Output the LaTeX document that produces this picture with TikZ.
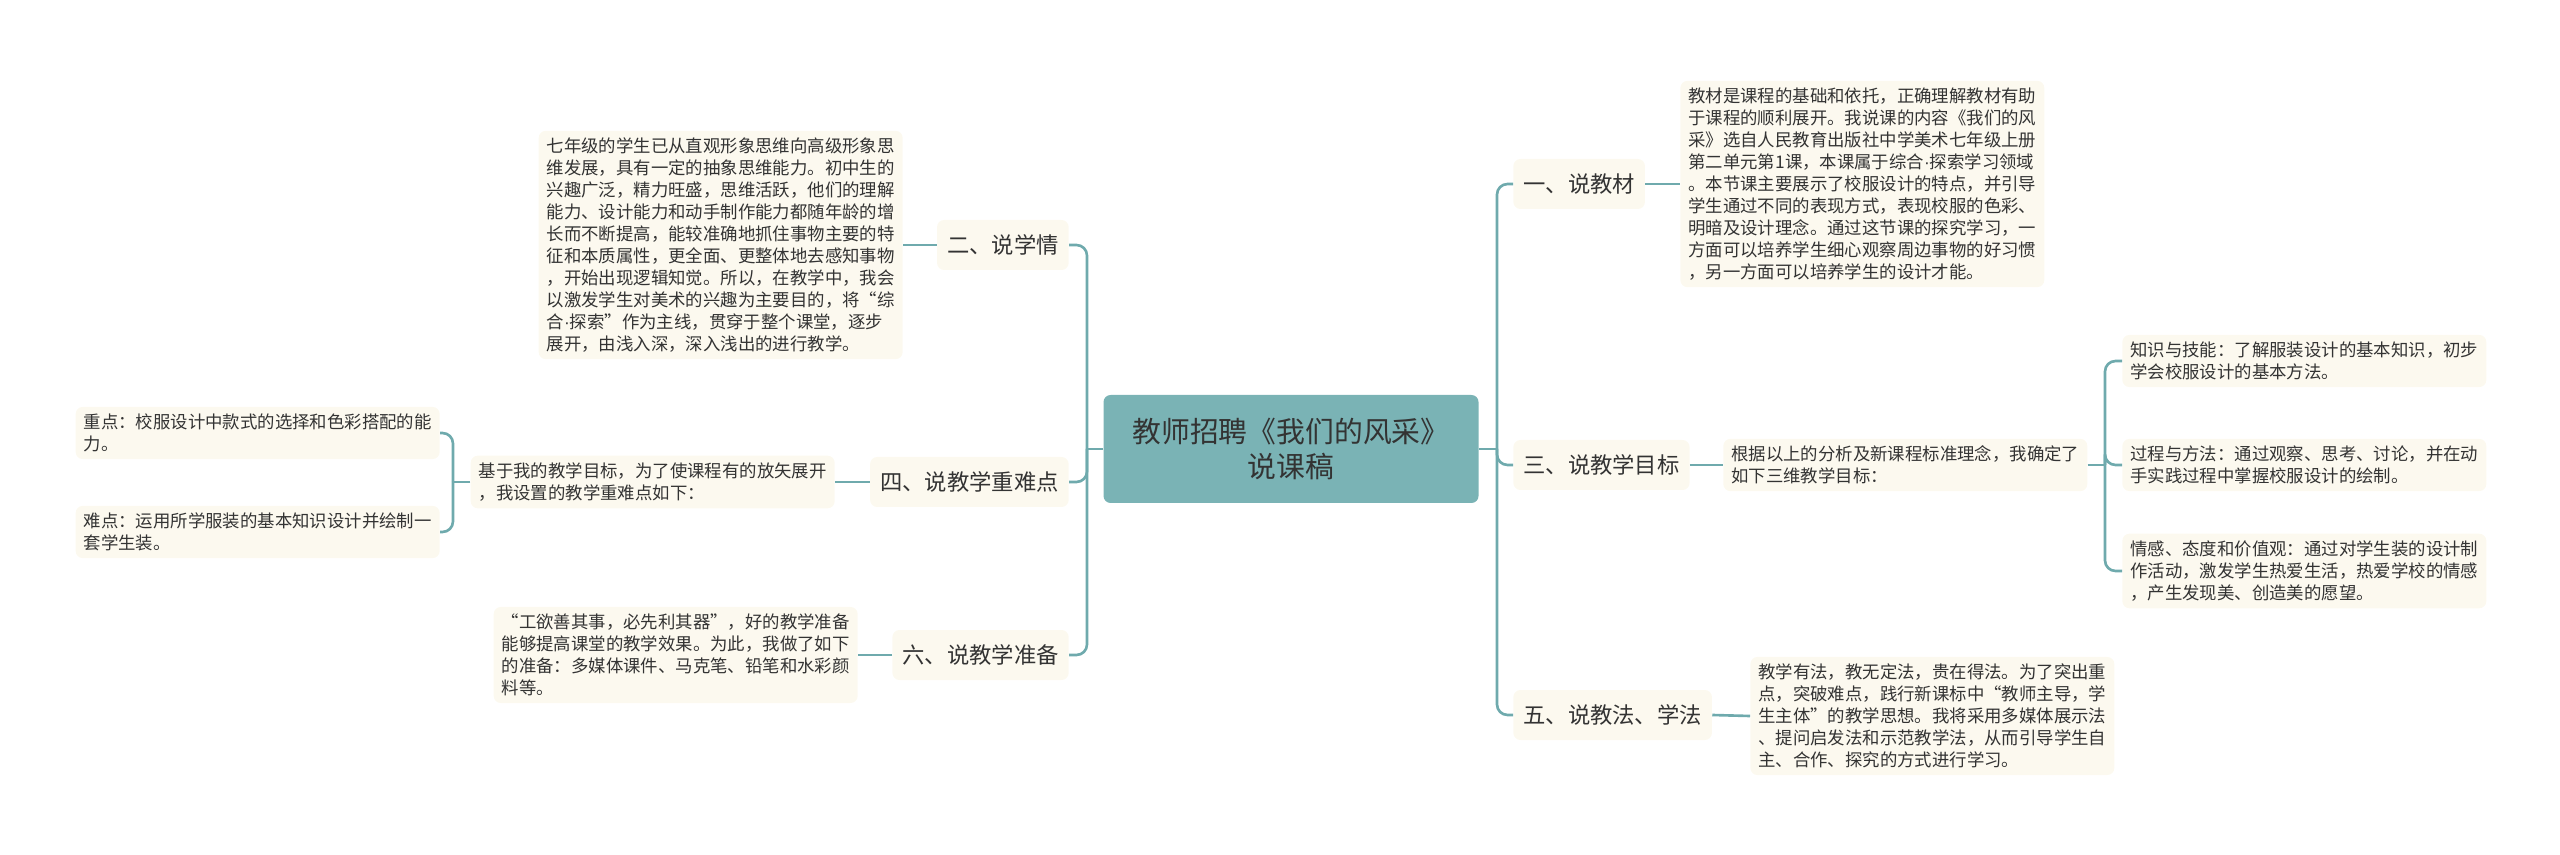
\documentclass[tikz,border=0pt]{standalone}
\usepackage{fontspec}
\setmainfont{Noto Sans CJK SC}
\newfontfamily\latinfont{Liberation Sans}
\newcommand{\middot}{{\latinfont ·}}
\definecolor{trunkteal}{HTML}{6FAAAD}
\definecolor{rootteal}{HTML}{7AB3B5}
\definecolor{notecream}{HTML}{FCF9EF}
\definecolor{inkgray}{HTML}{333333}
\begin{document}
\begin{tikzpicture}[
  root/.style={fill=rootteal, rounded corners=4pt, text=inkgray, align=center,
    minimum width=7.5cm, minimum height=2.16cm, font=\fontsize{16.4}{20}\selectfont},
  topic/.style={fill=notecream, rounded corners=4pt, text=inkgray,
    minimum height=1cm, inner xsep=0.2cm, font=\fontsize{12.7}{15}\selectfont},
  note/.style={fill=notecream, rounded corners=4pt, text=inkgray, align=left,
    inner xsep=0.16cm, inner ysep=0.14cm, font=\fontsize{9.9}{12.5}\selectfont},
  link/.style={draw=trunkteal, line width=1.5pt, rounded corners=6pt}
]
\useasboundingbox (0,0) rectangle (51.2,17.08);

\node[root] (root) at (25.82,8.10) {教师招聘《我们的风采》\\说课稿};
\coordinate (jl) at (21.74,8.10);
\coordinate (jr) at (29.94,8.10);

\node[topic, anchor=east] (b2) at (21.38,12.18) {二、说学情};
\node[topic, anchor=east] (b4) at (21.38,7.44) {四、说教学重难点};
\node[topic, anchor=east] (b6) at (21.38,3.98) {六、说教学准备};
\node[topic, anchor=west] (b1) at (30.26,13.40) {一、说教材};
\node[topic, anchor=west] (b3) at (30.26,7.78) {三、说教学目标};
\node[topic, anchor=west] (b5) at (30.26,2.78) {五、说教法、学法};

\node[note, anchor=east] (n2) at (18.06,12.18) {七年级的学生已从直观形象思维向高级形象思\\
维发展，具有一定的抽象思维能力。初中生的\\
兴趣广泛，精力旺盛，思维活跃，他们的理解\\
能力、设计能力和动手制作能力都随年龄的增\\
长而不断提高，能较准确地抓住事物主要的特\\
征和本质属性，更全面、更整体地去感知事物\\
，开始出现逻辑知觉。所以，在教学中，我会\\
以激发学生对美术的兴趣为主要目的，将“综\\
合\middot 探索”作为主线，贯穿于整个课堂，逐步\\
展开，由浅入深，深入浅出的进行教学。};
\node[note, anchor=east] (n4) at (16.70,7.44) {基于我的教学目标，为了使课程有的放矢展开\\
，我设置的教学重难点如下：};
\node[note, anchor=east] (n6) at (17.16,3.98) {“工欲善其事，必先利其器”，好的教学准备\\
能够提高课堂的教学效果。为此，我做了如下\\
的准备：多媒体课件、马克笔、铅笔和水彩颜\\
料等。};
\coordinate (j4) at (9.06,7.44);
\node[note, anchor=east] (k1) at (8.80,8.42) {重点：校服设计中款式的选择和色彩搭配的能\\
力。};
\node[note, anchor=east] (k2) at (8.80,6.44) {难点：运用所学服装的基本知识设计并绘制一\\
套学生装。};

\node[note, anchor=west] (n1) at (33.60,13.40) {教材是课程的基础和依托，正确理解教材有助\\
于课程的顺利展开。我说课的内容《我们的风\\
采》选自人民教育出版社中学美术七年级上册\\
第二单元第1课，本课属于综合\middot 探索学习领域\\
。本节课主要展示了校服设计的特点，并引导\\
学生通过不同的表现方式，表现校服的色彩、\\
明暗及设计理念。通过这节课的探究学习，一\\
方面可以培养学生细心观察周边事物的好习惯\\
，另一方面可以培养学生的设计才能。};
\node[note, anchor=west] (n3) at (34.46,7.78) {根据以上的分析及新课程标准理念，我确定了\\
如下三维教学目标：};
\node[note, anchor=west] (n5) at (35.00,2.76) {教学有法，教无定法，贵在得法。为了突出重\\
点，突破难点，践行新课标中“教师主导，学\\
生主体”的教学思想。我将采用多媒体展示法\\
、提问启发法和示范教学法，从而引导学生自\\
主、合作、探究的方式进行学习。};
\coordinate (j3) at (42.10,7.78);
\node[note, anchor=west] (s1) at (42.44,9.86) {知识与技能：了解服装设计的基本知识，初步\\
学会校服设计的基本方法。};
\node[note, anchor=west] (s2) at (42.44,7.78) {过程与方法：通过观察、思考、讨论，并在动\\
手实践过程中掌握校服设计的绘制。};
\node[note, anchor=west] (s3) at (42.44,5.66) {情感、态度和价值观：通过对学生装的设计制\\
作活动，激发学生热爱生活，热爱学校的情感\\
，产生发现美、创造美的愿望。};

\draw[link] (root.west) -- (jl);
\draw[link] (root.east) -- (jr);
\foreach \b in {b2,b4,b6} \draw[link] (jl) |- (\b.east);
\foreach \b in {b1,b3,b5} \draw[link] (jr) |- (\b.west);
\draw[link] (b2.west) -- (n2.east);
\draw[link] (b4.west) -- (n4.east);
\draw[link] (b6.west) -- (n6.east);
\draw[link] (b1.east) -- (n1.west);
\draw[link] (b3.east) -- (n3.west);
\draw[link] (b5.east) -- (n5.west);
\draw[link] (n4.west) -- (j4);
\foreach \k in {k1,k2} \draw[link] (j4) |- (\k.east);
\draw[link] (n3.east) -- (j3);
\foreach \s in {s1,s2,s3} \draw[link] (j3) |- (\s.west);
\end{tikzpicture}
\end{document}
